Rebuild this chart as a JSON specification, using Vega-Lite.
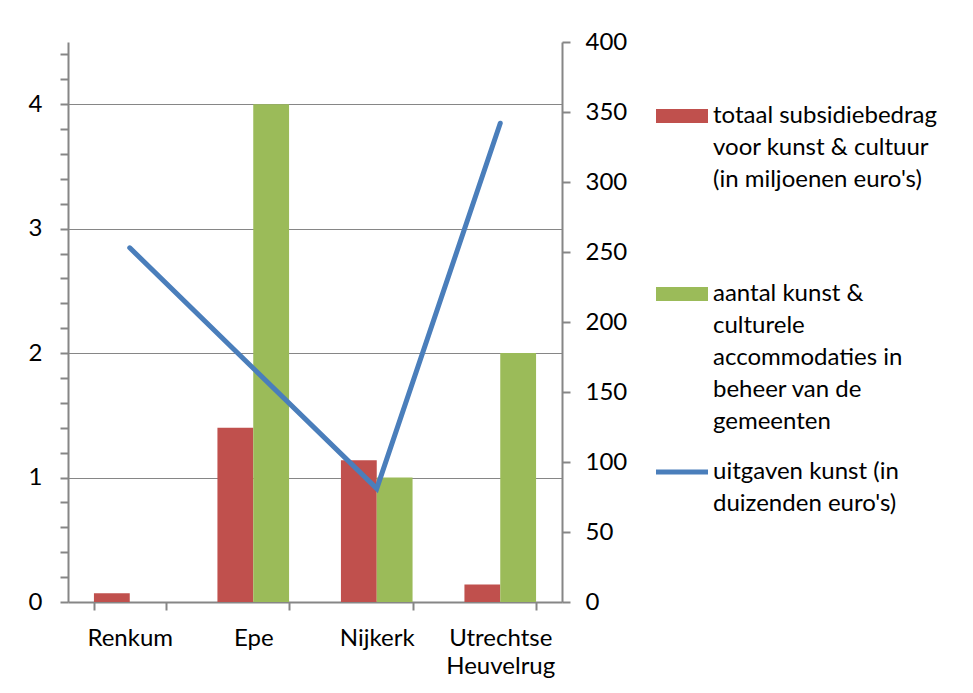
{
  "$schema": "https://vega.github.io/schema/vega-lite/v6.json",
  "autosize": {"type": "none"},
  "padding": {"left": 68, "top": 42, "right": 411, "bottom": 91},
  "width": 494,
  "height": 560,
  "background": "white",
  "config": {
    "font": "Lato",
    "view": {"stroke": null},
    "axis": {"labelColor": "black", "labelFontSize": 24, "labelFont": "Lato", "domainColor": "#868686", "tickColor": "#868686", "title": null}
  },
  "datasets": {
    "balken": [
      {"gemeente": "Renkum", "reeks": "totaal subsidiebedrag voor kunst & cultuur (in miljoenen euro's)", "waarde": 0.07},
      {"gemeente": "Renkum", "reeks": "aantal kunst & culturele accommodaties in beheer van de gemeenten", "waarde": 0},
      {"gemeente": "Epe", "reeks": "totaal subsidiebedrag voor kunst & cultuur (in miljoenen euro's)", "waarde": 1.4},
      {"gemeente": "Epe", "reeks": "aantal kunst & culturele accommodaties in beheer van de gemeenten", "waarde": 4},
      {"gemeente": "Nijkerk", "reeks": "totaal subsidiebedrag voor kunst & cultuur (in miljoenen euro's)", "waarde": 1.14},
      {"gemeente": "Nijkerk", "reeks": "aantal kunst & culturele accommodaties in beheer van de gemeenten", "waarde": 1},
      {"gemeente": "Utrechtse Heuvelrug", "reeks": "totaal subsidiebedrag voor kunst & cultuur (in miljoenen euro's)", "waarde": 0.14},
      {"gemeente": "Utrechtse Heuvelrug", "reeks": "aantal kunst & culturele accommodaties in beheer van de gemeenten", "waarde": 2}
    ],
    "lijn": [
      {"gemeente": "Renkum", "uitgaven": 253},
      {"gemeente": "Epe", "uitgaven": 167},
      {"gemeente": "Nijkerk", "uitgaven": 81},
      {"gemeente": "Utrechtse Heuvelrug", "uitgaven": 342}
    ]
  },
  "layer": [
    {
      "data": {"name": "balken"},
      "mark": {"type": "bar"},
      "encoding": {
        "x": {
          "field": "gemeente", "type": "nominal",
          "sort": ["Renkum", "Epe", "Nijkerk", "Utrechtse Heuvelrug"],
          "scale": {"paddingInner": 0.42, "paddingOuter": 0.21},
          "axis": {"labelAngle": 0, "labelExpr": "split(datum.label, ' ')", "labelLineHeight": 28, "labelPadding": 16, "labelBaseline": "top", "tickBand": "extent", "tickSize": 8, "tickWidth": 2, "domainWidth": 2}
        },
        "xOffset": {
          "field": "reeks", "type": "nominal",
          "sort": ["totaal subsidiebedrag voor kunst & cultuur (in miljoenen euro's)", "aantal kunst & culturele accommodaties in beheer van de gemeenten"],
          "scale": {"paddingInner": 0, "paddingOuter": 0}
        },
        "y": {
          "field": "waarde", "type": "quantitative",
          "scale": {"domain": [0, 4.5], "nice": false, "zero": true},
          "axis": {
            "orient": "left",
            "values": [0, 0.2, 0.4, 0.6, 0.8, 1, 1.2, 1.4, 1.6, 1.8, 2, 2.2, 2.4, 2.6, 2.8, 3, 3.2, 3.4, 3.6, 3.8, 4, 4.2, 4.4],
            "labelExpr": "datum.value % 1 == 0 ? format(datum.value, 'd') : ''",
            "labelOverlap": false,
            "labelPadding": 18,
            "tickSize": 8,
            "tickWidth": 2,
            "domainWidth": 2,
            "grid": true,
            "gridColor": "#868686",
            "gridWidth": 1.2,
            "gridOpacity": {"condition": {"test": "datum.value % 1 == 0 && datum.value > 0", "value": 1}, "value": 0}
          }
        },
        "color": {
          "field": "reeks", "type": "nominal",
          "scale": {
            "domain": ["totaal subsidiebedrag voor kunst & cultuur (in miljoenen euro's)", "aantal kunst & culturele accommodaties in beheer van de gemeenten", "uitgaven kunst (in duizenden euro's)"],
            "range": ["#C0504D", "#9BBB59", "#4A7EBB"]
          },
          "legend": {
            "orient": "none",
            "legendX": 588,
            "legendY": 36,
            "title": null,
            "padding": 0,
            "labelFont": "Lato",
            "labelFontSize": 24,
            "labelColor": "black",
            "labelLimit": 500,
            "labelOffset": 5,
            "labelBaseline": "top",
            "symbolSize": 2704,
            "rowPadding": 0,
            "labelExpr": "indexof(datum.label, 'totaal') == 0 ? [\"totaal subsidiebedrag\", \"voor kunst & cultuur\", \"(in miljoenen euro's)\", \" \", \" \"] : indexof(datum.label, 'aantal') == 0 ? [\"aantal kunst &\", \"culturele\", \"accommodaties in\", \"beheer van de\", \"gemeenten\"] : [\"uitgaven kunst (in\", \"duizenden euro's)\"]",
            "encode": {
              "symbols": {"update": {
                "shape": {"signal": "indexof(datum.value, 'uitgaven') == 0 ? 'M-1,0.37H1V0.56H-1Z' : 'M-1,0.19H1V0.73H-1Z'"},
                "fill": {"scale": "color", "field": "value"},
                "strokeWidth": {"value": 0},
                "opacity": {"value": 1}
              }},
              "labels": {"update": {"lineHeight": {"value": 32}}}
            }
          }
        }
      }
    },
    {
      "data": {"name": "lijn"},
      "mark": {"type": "line", "strokeWidth": 5, "strokeCap": "round", "strokeJoin": "miter"},
      "encoding": {
        "x": {"field": "gemeente", "type": "nominal", "sort": ["Renkum", "Epe", "Nijkerk", "Utrechtse Heuvelrug"]},
        "y": {
          "field": "uitgaven", "type": "quantitative",
          "scale": {"domain": [0, 400], "nice": false},
          "axis": {"orient": "right", "values": [0, 50, 100, 150, 200, 250, 300, 350, 400], "grid": false, "tickSize": 8, "tickWidth": 2, "domainWidth": 2, "labelPadding": 15, "labelOverlap": false}
        },
        "color": {"datum": "uitgaven kunst (in duizenden euro's)"}
      }
    }
  ],
  "resolve": {"scale": {"y": "independent"}}
}
